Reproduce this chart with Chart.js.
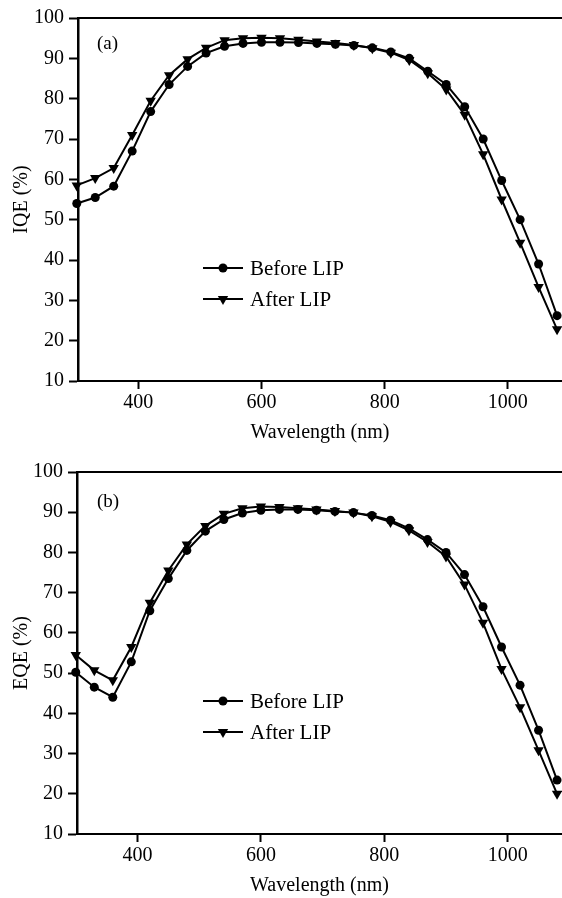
<!DOCTYPE html>
<html>
<head>
<meta charset="utf-8">
<script src="https://cdn.jsdelivr.net/npm/chart.js@4.4.1/dist/chart.umd.min.js"></script>
<style>
  html, body { margin: 0; padding: 0; background: #fff; }
  .box { position: relative; width: 562px; height: 449px; }
</style>
</head>
<body>
<div class="box"><canvas id="c1"></canvas></div>
<div class="box"><canvas id="c2"></canvas></div>
<script>
// ---- Data ----
const wavelengths = [300, 330, 360, 390, 420, 450, 480, 510, 540, 570, 600, 630, 660, 690,
                     720, 750, 780, 810, 840, 870, 900, 930, 960, 990, 1020, 1050, 1080];
const iqeBefore = [54, 55.5, 58.3, 67, 76.8, 83.5, 88, 91.3, 93, 93.7, 94, 94, 93.9, 93.7,
                   93.5, 93.2, 92.6, 91.6, 90, 86.8, 83.5, 78, 70, 59.7, 50, 39, 26.2];
const iqeAfter  = [58.5, 60.3, 62.8, 71, 79.5, 85.8, 89.8, 92.6, 94.5, 95, 95.1, 95, 94.6, 94.2,
                   93.8, 93.3, 92.5, 91.4, 89.6, 86.3, 82.3, 76, 66.2, 55, 44.3, 33.3, 22.8];
const eqeBefore = [50.2, 46.5, 44, 52.8, 65.5, 73.5, 80.5, 85.3, 88.2, 89.8, 90.5, 90.7, 90.7, 90.5,
                   90.2, 89.9, 89.2, 88, 86, 83.2, 80, 74.5, 66.5, 56.5, 47, 35.8, 23.4];
const eqeAfter  = [54.5, 50.7, 48.2, 56.5, 67.5, 75.5, 82, 86.6, 89.6, 91, 91.4, 91.3, 91, 90.7,
                   90.3, 89.9, 89, 87.6, 85.5, 82.6, 79, 72, 62.5, 51, 41.5, 30.8, 20];
const xTicks = [400, 600, 800, 1000];
const seriesNames = ['Before LIP', 'After LIP'];
const xTitle = 'Wavelength (nm)';

const FONT = "'Liberation Serif', 'Times New Roman', serif";

const decorPlugin = {
  id: 'decor',
  afterDraw(chart, args, opts) {
    const ctx = chart.ctx;
    const ca = chart.chartArea;
    ctx.save();
    // top frame line
    ctx.strokeStyle = '#000';
    ctx.lineWidth = 2;
    ctx.beginPath();
    ctx.moveTo(ca.left, ca.top);
    ctx.lineTo(chart.width, ca.top);
    ctx.stroke();
    // panel label
    ctx.fillStyle = '#000';
    ctx.font = '19px ' + FONT;
    ctx.textBaseline = 'middle';
    ctx.textAlign = 'left';
    ctx.fillText(opts.panel, opts.panelX, opts.panelY);
    // legend
    ctx.font = '21px ' + FONT;
    chart.data.datasets.forEach((ds, i) => {
      const y = opts.legY[i];
      ctx.strokeStyle = '#000';
      ctx.lineWidth = 2;
      ctx.beginPath();
      ctx.moveTo(opts.legX0, y);
      ctx.lineTo(opts.legX1, y);
      ctx.stroke();
      const cx = (opts.legX0 + opts.legX1) / 2;
      ctx.beginPath();
      if (ds.pointStyle === 'triangle') {
        const r = ds.pointRadius;
        ctx.moveTo(cx - r * 0.866, y - r * 0.5);
        ctx.lineTo(cx + r * 0.866, y - r * 0.5);
        ctx.lineTo(cx, y + r);
      } else {
        ctx.arc(cx, y, ds.pointRadius, 0, Math.PI * 2);
      }
      ctx.closePath();
      ctx.fill();
      ctx.fillText(ds.label, opts.textX, y + 1);
    });
    ctx.restore();
  }
};

function makeChart(id, before, after, yTitle, cfg) {
  return new Chart(document.getElementById(id), {
    type: 'line',
    data: {
      datasets: [
        {
          label: seriesNames[0],
          data: wavelengths.map((x, i) => ({ x, y: before[i] })),
          borderColor: '#000', backgroundColor: '#000', borderWidth: 2,
          pointStyle: 'circle', pointRadius: 4.5, pointBackgroundColor: '#000',
          pointBorderColor: '#000', pointBorderWidth: 0, tension: 0, clip: false
        },
        {
          label: seriesNames[1],
          data: wavelengths.map((x, i) => ({ x, y: after[i] })),
          borderColor: '#000', backgroundColor: '#000', borderWidth: 2,
          pointStyle: 'triangle', pointRotation: 180, pointRadius: 6, pointBackgroundColor: '#000',
          pointBorderColor: '#000', pointBorderWidth: 0, tension: 0, clip: false
        }
      ]
    },
    options: {
      responsive: true,
      maintainAspectRatio: false,
      animation: false,
      events: [],
      layout: { autoPadding: false, padding: { top: cfg.padTop, left: 0, right: 0, bottom: 0 } },
      plugins: {
        legend: { display: false },
        tooltip: { enabled: false },
        decor: cfg.decor
      },
      scales: {
        x: {
          type: 'linear',
          min: 302, max: 1088,
          afterBuildTicks: (s) => { s.ticks = xTicks.map(v => ({ value: v })); },
          afterFit: (s) => { s.height = cfg.xHeight; s.paddingRight = 0; },
          border: { display: true, color: '#000', width: 2 },
          grid: { drawOnChartArea: false, drawTicks: true, tickLength: 8, tickWidth: 2, tickColor: '#000', color: '#000' },
          ticks: { color: '#000', font: { family: FONT, size: 20 }, padding: 2, maxRotation: 0,
                   callback: (v) => String(v) },
          title: { display: true, text: xTitle, color: '#000', font: { family: FONT, size: 20 }, padding: { top: 0, bottom: cfg.xTitlePad } }
        },
        y: {
          min: 10, max: 100,
          afterFit: (s) => { s.width = cfg.yWidth; },
          border: { display: true, color: '#000', width: 2.5 },
          grid: { drawOnChartArea: false, drawTicks: true, tickLength: 9, tickWidth: 2, tickColor: '#000', color: '#000' },
          ticks: { stepSize: 10, color: '#000', font: { family: FONT, size: 20 }, padding: 5 },
          title: { display: true, text: yTitle, color: '#000', font: { family: FONT, size: 20 }, padding: { top: 10, bottom: 0 } }
        }
      }
    },
    plugins: [decorPlugin]
  });
}

makeChart('c1', iqeBefore, iqeAfter, 'IQE (%)', {
  padTop: 18, xHeight: 68, yWidth: 78, xTitlePad: 4,
  decor: { panel: '(a)', panelX: 97, panelY: 44, legX0: 203, legX1: 243, textX: 250, legY: [268, 299] }
});
makeChart('c2', eqeBefore, eqeAfter, 'EQE (%)', {
  padTop: 23, xHeight: 64, yWidth: 77, xTitlePad: 0,
  decor: { panel: '(b)', panelX: 97, panelY: 53, legX0: 203, legX1: 243, textX: 250, legY: [252, 283] }
});
</script>
</body>
</html>
